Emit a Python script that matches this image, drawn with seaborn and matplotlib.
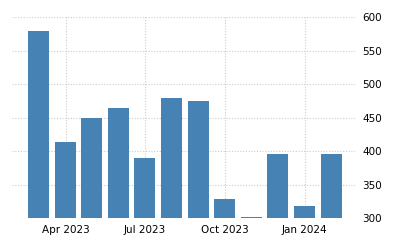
import matplotlib
matplotlib.use("Agg")
import matplotlib.pyplot as plt
import matplotlib.dates as mdates
import seaborn as sns
import pandas as pd
import numpy as np

months = ["2023-03-01", "2023-04-01", "2023-05-01", "2023-06-01", "2023-07-01", "2023-08-01",
          "2023-09-01", "2023-10-01", "2023-11-01", "2023-12-01", "2024-01-01", "2024-02-01"]
values = [580, 414, 450, 465, 390, 480, 475, 329, 302, 396, 318, 396]
tick_dates = ["2023-04-01", "2023-07-01", "2023-10-01", "2024-01-01"]
tick_labels = ["Apr 2023", "Jul 2023", "Oct 2023", "Jan 2024"]
y_ticks = [300, 350, 400, 450, 500, 550, 600]

sns.set_style("white")
plt.rcParams['font.family'] = ['DejaVu Sans']

dnum = mdates.date2num(pd.to_datetime(months))
df = pd.DataFrame({"date": dnum, "value": values})

fig = plt.figure(figsize=(4, 2.5), dpi=100)
ax = fig.add_axes([0.03, 0.127, 0.8575, 0.804])
sns.barplot(data=df, x="date", y="value", native_scale=True, width=0.81,
            color="#4682B4", saturation=1, ax=ax, zorder=2, edgecolor="none", linewidth=0)

ax.set_ylim(300, 600)
ax.set_xlim(mdates.date2num(pd.Timestamp("2023-01-29")), mdates.date2num(pd.Timestamp("2024-02-28")))
ax.set_yticks(y_ticks)
ax.set_yticklabels([str(v) for v in y_ticks])
ax.set_xticks(mdates.date2num(pd.to_datetime(tick_dates)))
ax.set_xticklabels(tick_labels)
ax.yaxis.tick_right()
ax.tick_params(axis="y", length=0, pad=5, labelsize=7.5, labelcolor="#000000")
ax.tick_params(axis="x", length=3, width=0.8, color="#bbbbbb", pad=2, labelsize=7.5, labelcolor="#000000")
ax.grid(True, linestyle=(0, (1, 1.5)), color="#cccccc", linewidth=0.8, zorder=0)
ax.set_axisbelow(True)
for s in ax.spines.values():
    s.set_visible(False)
ax.set_xlabel("")
ax.set_ylabel("")

fig.savefig("out.png", dpi=100)
